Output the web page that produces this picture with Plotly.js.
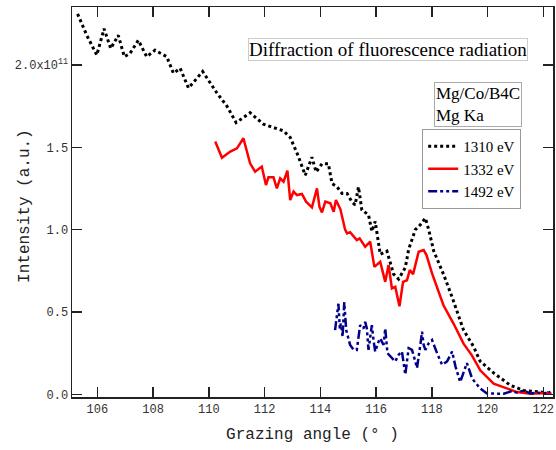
<!DOCTYPE html>
<html><head><meta charset="utf-8">
<script src="https://cdn.plot.ly/plotly-3.0.1.min.js"></script>
<style>html,body{margin:0;padding:0;background:#fff}#chart{width:556px;height:450px}</style>
</head><body><div id="chart"></div>
<script>
// Grazing angle (deg) and intensity (units of 1e11)
const angle1310 = [105.29,105.62,105.98,106.24,106.48,106.75,106.97,107.17,107.47,107.77,108.07,108.49,108.73,108.97,109.27,109.78,110.29,110.65,110.98,111.48,111.96,112.68,112.92,113.20,113.46,113.70,113.85,114.06,114.29,114.42,114.60,114.78,114.96,115.13,115.25,115.37,115.49,115.73,115.85,115.97,116.15,116.39,116.63,116.81,117.05,117.17,117.41,117.59,117.77,117.89,118.07,118.42,118.73,119.14,119.50,119.74,120.22,120.82,121.30,121.78,122.26];
const int1310 = [2.31,2.18,2.06,2.22,2.10,2.18,2.05,2.07,2.15,2.05,2.09,2.05,1.95,1.98,1.86,1.96,1.83,1.75,1.65,1.71,1.64,1.60,1.56,1.45,1.33,1.44,1.35,1.40,1.40,1.28,1.26,1.22,1.22,1.17,1.15,1.26,1.12,1.09,0.99,1.05,0.85,0.87,0.73,0.70,0.77,0.88,1.00,1.03,1.07,1.00,0.87,0.73,0.59,0.39,0.29,0.20,0.13,0.055,0.024,0.014,0.008];

const angle1332 = [110.23,110.47,110.77,111.01,111.24,111.48,111.66,111.90,112.05,112.14,112.32,112.44,112.56,112.68,112.82,112.92,113.04,113.16,113.34,113.49,113.70,113.88,113.97,114.06,114.18,114.36,114.48,114.56,114.72,114.89,114.96,115.07,115.31,115.41,115.61,115.79,115.94,116.15,116.33,116.45,116.57,116.69,116.84,116.97,117.11,117.21,117.33,117.53,117.71,117.81,118.01,118.42,118.78,119.14,119.44,119.74,120.22,120.58,121.06,121.54,122.01,122.30];
const int1332 = [1.535,1.437,1.474,1.494,1.555,1.403,1.352,1.383,1.271,1.318,1.318,1.251,1.312,1.291,1.358,1.180,1.231,1.210,1.217,1.170,1.135,1.251,1.139,1.105,1.170,1.160,1.109,1.180,1.125,1.000,0.977,0.985,0.937,0.947,0.896,0.927,0.774,0.805,0.683,0.785,0.643,0.653,0.535,0.683,0.693,0.754,0.730,0.866,0.876,0.846,0.734,0.541,0.430,0.308,0.237,0.146,0.065,0.044,0.014,0.004,0.008,0.004];

const angle1492 = [114.53,114.60,114.65,114.70,114.74,114.80,114.86,114.93,115.07,115.20,115.31,115.43,115.55,115.61,115.67,115.73,115.85,115.91,115.97,116.09,116.15,116.27,116.33,116.41,116.57,116.69,116.81,116.93,116.99,117.05,117.17,117.29,117.41,117.47,117.59,117.65,117.71,117.77,117.89,118.01,118.19,118.37,118.55,118.73,118.85,119.02,119.26,119.44,119.50,119.74,119.98,120.22,120.58,120.88,121.06,121.30,121.54,121.78,122.01,122.26];
const int1492 = [0.39,0.50,0.55,0.40,0.43,0.35,0.56,0.39,0.30,0.27,0.27,0.42,0.40,0.44,0.40,0.27,0.42,0.33,0.26,0.32,0.34,0.30,0.40,0.25,0.22,0.20,0.24,0.26,0.19,0.12,0.28,0.27,0.20,0.16,0.30,0.38,0.30,0.27,0.31,0.33,0.25,0.18,0.20,0.26,0.17,0.075,0.19,0.10,0.085,0.035,0.005,0.006,0.004,0.020,0.010,0.024,0.005,0.010,0.006,0.014];

const yTickVals = [0, 0.5, 1.0, 1.5, 2.0];
const yTickText = ['0.0', '0.5', '1.0', '1.5', '2.0x10<sup>11</sup>'];
const xTickVals = [106,108,110,112,114,116,118,120,122];

const mono = 'Liberation Mono, DejaVu Sans Mono, monospace';
const serif = 'Liberation Serif, Times New Roman, serif';

const traces = [
  {x: angle1310, y: int1310, name: '1310 eV', type: 'scatter', mode: 'lines',
   line: {color: '#000000', width: 3, dash: 'dot'}},
  {x: angle1332, y: int1332, name: '1332 eV', type: 'scatter', mode: 'lines',
   line: {color: '#ff0000', width: 2.5}},
  {x: angle1492, y: int1492, name: '1492 eV', type: 'scatter', mode: 'lines',
   line: {color: '#00008b', width: 2.5, dash: '9px,3px,3px,3px,3px,3px'}}
];

const axisCommon = {showline: true, linecolor: '#222', linewidth: 1.5, mirror: 'ticks',
  ticks: 'inside', ticklen: 10, tickwidth: 1.5, tickcolor: '#222', showgrid: false, zeroline: false,
  tickfont: {family: mono, size: 12, color: '#333'}};

const layout = {
  width: 556, height: 450,
  margin: {l: 72, r: 3, t: 7, b: 53},
  paper_bgcolor: '#fff', plot_bgcolor: '#fff',
  showlegend: true,
  xaxis: Object.assign({}, axisCommon, {range: [105.09, 122.35], tickvals: xTickVals,
    title: {text: 'Grazing angle (° )', font: {family: mono, size: 16, color: '#222'}, standoff: 12}}),
  yaxis: Object.assign({}, axisCommon, {range: [-0.016, 2.352], tickvals: yTickVals, ticktext: yTickText}),
  legend: {x: 0.728, y: 0.687, xanchor: 'left', yanchor: 'top', bgcolor: '#fff',
    bordercolor: '#999', borderwidth: 1, font: {family: serif, size: 15, color: '#000'},
    tracegroupgap: 0, itemwidth: 30},
  annotations: [
    {xref: 'paper', yref: 'paper', x: -0.0977, y: 0.49, xanchor: 'center', yanchor: 'middle',
     text: 'Intensity (a.u.)', textangle: -90, showarrow: false,
     font: {family: mono, size: 16, color: '#222'}},
    {xref: 'paper', yref: 'paper', x: 0.658, y: 0.89, xanchor: 'center', yanchor: 'middle',
     text: 'Diffraction of fluorescence radiation', showarrow: false,
     font: {family: serif, size: 19, color: '#000'}, bordercolor: '#ccc', borderwidth: 1, borderpad: 0, bgcolor: '#fff'},
    {xref: 'paper', yref: 'paper', x: 0.845, y: 0.75, xanchor: 'center', yanchor: 'middle',
     text: 'Mg/Co/B4C<br>Mg Ka', align: 'left', showarrow: false,
     font: {family: serif, size: 17, color: '#000'}, bordercolor: '#aaa', borderwidth: 1, borderpad: 1, bgcolor: '#fff'}
  ]
};

Plotly.newPlot('chart', traces, layout, {displayModeBar: false, staticPlot: true});
</script></body></html>
